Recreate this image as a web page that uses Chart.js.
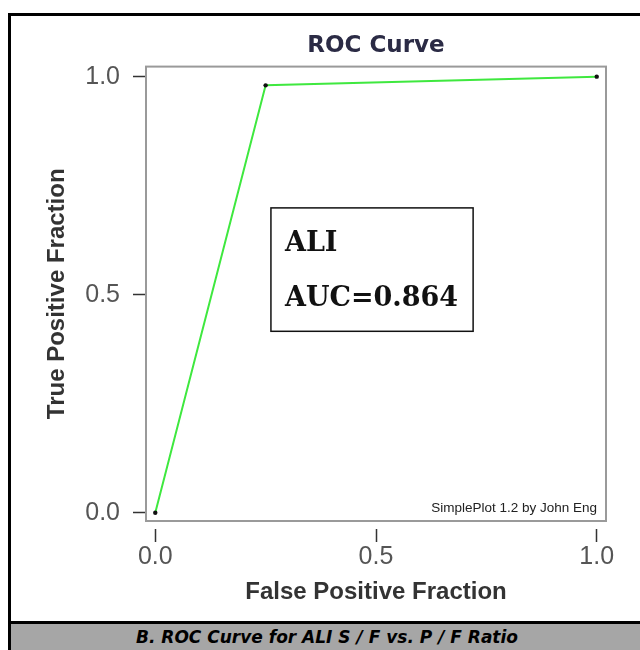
<!DOCTYPE html>
<html>
<head>
<meta charset="utf-8">
<script src="https://cdn.jsdelivr.net/npm/chart.js@4"></script>
<style>
  body { margin: 0; background: #fff; width: 640px; height: 650px; overflow: hidden; position: relative; }
  #frame { position: absolute; left: 8px; top: 13px; width: 640px; height: 640px;
           border-left: 3px solid #000; border-top: 3px solid #000; }
  #caption { position: absolute; left: 8px; top: 621px; width: 632px; height: 29px;
             border-left: 3px solid #000; border-top: 3px solid #000; background: #a6a6a6;
             font: italic bold 17px "DejaVu Sans", sans-serif; color: #000;
             text-align: center; line-height: 26px; }
  #wrap { position: absolute; left: 0; top: 0; width: 640px; height: 620px; }
</style>
</head>
<body>
<div id="frame"></div>
<div id="caption">B. ROC Curve for ALI S / F vs. P / F Ratio</div>
<div id="wrap"><canvas id="rocChart" width="640" height="620"></canvas></div>
<script>
// ROC points
var fpf = [0, 0.25, 1];
var tpf = [0, 0.98, 1];
var tickValues = [0, 0.5, 1];

// text inside the plot
var boxLines = ['ALI', 'AUC=0.864'];
var creditText = 'SimplePlot 1.2 by John Eng';

// where the label box sits, in data units
var boxArea = { x0: 0.262, x1: 0.72, y0: 0.416, y1: 0.699 };

var points = [];
for (var i = 0; i < fpf.length; i++) {
    points.push({ x: fpf[i], y: tpf[i] });
}

var frameBox = {
    id: 'frameBox',
    afterDraw: function (chart) {
        var ctx = chart.ctx;
        var a = chart.chartArea;
        var xs = chart.scales.x, ys = chart.scales.y;
        ctx.save();
        // grey plot frame
        ctx.strokeStyle = '#9a9a9a';
        ctx.lineWidth = 2;
        ctx.strokeRect(a.left, a.top, a.right - a.left, a.bottom - a.top);

        // label box
        var bx0 = xs.getPixelForValue(boxArea.x0), bx1 = xs.getPixelForValue(boxArea.x1);
        var by0 = ys.getPixelForValue(boxArea.y1), by1 = ys.getPixelForValue(boxArea.y0);
        ctx.strokeStyle = '#111';
        ctx.lineWidth = 1.5;
        ctx.strokeRect(bx0, by0, bx1 - bx0, by1 - by0);
        ctx.fillStyle = '#111';
        ctx.font = 'bold 27px "DejaVu Serif", serif';
        ctx.textAlign = 'left';
        ctx.textBaseline = 'middle';
        ctx.fillText(boxLines[0], bx0 + 14, ys.getPixelForValue(0.617));
        ctx.fillText(boxLines[1], bx0 + 14, ys.getPixelForValue(0.49));

        // credit line
        ctx.font = '13.5px "Liberation Sans", Arial, sans-serif';
        ctx.fillStyle = '#222';
        ctx.textAlign = 'right';
        ctx.textBaseline = 'alphabetic';
        ctx.fillText(creditText, a.right - 9, a.bottom - 9);
        ctx.restore();
    }
};

var tickGrid = function (len, gap) {
    return {
        drawOnChartArea: false,
        drawTicks: true,
        tickLength: len,
        tickColor: '#333',
        tickWidth: 1.5,
        tickBorderDash: [0, gap, len - gap, 100]
    };
};

var labelFont = { family: '"Liberation Sans", Arial, sans-serif', size: 25 };
var titleFont = { family: '"Liberation Sans", Arial, sans-serif', size: 24, weight: 'bold' };

var ctx = document.getElementById('rocChart').getContext('2d');
var chart = new Chart(ctx, {
    type: 'scatter',
    data: {
        datasets: [{
            label: 'ALI',
            data: points,
            showLine: true,
            borderColor: '#3fe83f',
            borderWidth: 2,
            pointRadius: 2.2,
            pointBackgroundColor: '#111',
            pointBorderColor: '#111',
            pointBorderWidth: 0
        }]
    },
    plugins: [frameBox],
    options: {
        responsive: false,
        animation: false,
        layout: { padding: { top: 0, right: 34, bottom: 0, left: 0 } },
        plugins: {
            legend: { display: false },
            tooltip: { enabled: false },
            title: {
                display: true,
                fullSize: false,
                text: 'ROC Curve',
                color: '#2b2b45',
                font: { family: '"DejaVu Sans", sans-serif', size: 23, weight: 'bold' },
                padding: { top: 32, bottom: 7 }
            }
        },
        scales: {
            x: {
                type: 'linear',
                min: -0.021,
                max: 1.021,
                afterBuildTicks: function (scale) {
                    scale.ticks = tickValues.map(function (v) { return { value: v }; });
                },
                afterFit: function (scale) { scale.height = 99; },
                border: { display: false },
                grid: tickGrid(21, 8),
                ticks: {
                    padding: 0,
                    color: '#555',
                    font: labelFont,
                    callback: function (v) { return v.toFixed(1); }
                },
                title: {
                    display: true,
                    text: 'False Positive Fraction',
                    color: '#333',
                    font: titleFont,
                    padding: { top: 0, bottom: 13 }
                }
            },
            y: {
                type: 'linear',
                min: -0.019,
                max: 1.023,
                afterBuildTicks: function (scale) {
                    scale.ticks = tickValues.map(function (v) { return { value: v }; });
                },
                afterFit: function (scale) { scale.width = 146; },
                border: { display: false },
                grid: tickGrid(21, 8),
                ticks: {
                    padding: 5,
                    color: '#555',
                    font: labelFont,
                    callback: function (v) { return v.toFixed(1); }
                },
                title: {
                    display: true,
                    text: 'True Positive Fraction',
                    color: '#333',
                    font: titleFont,
                    padding: { top: 43, bottom: 0 }
                }
            }
        }
    }
});
</script>
</body>
</html>
